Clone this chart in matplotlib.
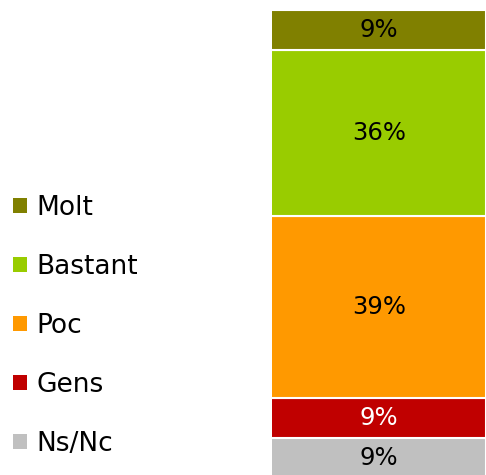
import matplotlib
matplotlib.use("Agg")
import matplotlib.pyplot as plt
from matplotlib.patches import Patch

categories = ["Ns/Nc", "Gens", "Poc", "Bastant", "Molt"]
values = [8.6, 8.6, 39.1, 35.7, 8.6]
labels = ["9%", "9%", "39%", "36%", "9%"]
colors = ["#C0C0C0", "#C00000", "#FF9900", "#99CC00", "#808000"]
label_colors = ["black", "white", "black", "black", "black"]

W, H = 486, 475
fig = plt.figure(figsize=(W / 100, H / 100), dpi=100)
total = sum(values)
top_px = 10
bar_px = total * 4.65
ax = fig.add_axes([272 / W, 1 - (top_px + bar_px) / H, (W - 272) / W, bar_px / H])
ax.set_xlim(0, 1)
ax.set_ylim(0, total)
ax.axis("off")

bottom = 0
for cat, v, lab, c, lc in zip(categories, values, labels, colors, label_colors):
    ax.bar(0, v, bottom=bottom, width=2, align="center", color=c,
           edgecolor="white", linewidth=1.5)
    ax.text(0.5, bottom + v / 2, lab, ha="center", va="center",
            fontsize=17.5, color=lc)
    bottom += v

handles = [Patch(facecolor=c, edgecolor="none") for c in colors][::-1]
fig.legend(handles, categories[::-1], loc="center left",
           bbox_to_anchor=(13 / W, 1 - 326 / H), frameon=False,
           fontsize=19, handlelength=0.52, handleheight=0.52,
           handletextpad=0.38, labelspacing=1.25, borderaxespad=0, borderpad=0)

fig.savefig("out.png", dpi=100)
